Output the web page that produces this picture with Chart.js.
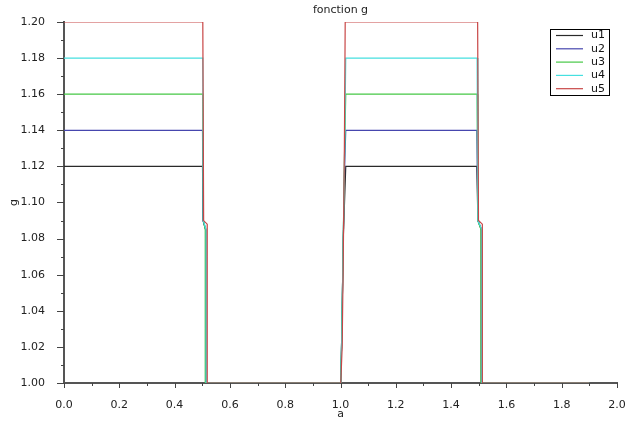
<!DOCTYPE html>
<html lang="fr">
<head>
    <meta charset="UTF-8">
    <title>fonction g</title>
    <script src="https://cdn.jsdelivr.net/npm/chart.js"></script>
    <style>
        body {
            margin: 0;
            background: #fff;
        }
        #chart {
            display: block;
        }
    </style>
</head>
<body>

<canvas id="chart" width="625" height="421"></canvas>

<script>
    // Données (a -> g)
    const chartTitle = 'fonction g';
    const seriesNames = ['u1', 'u2', 'u3', 'u4', 'u5'];
    const seriesColors = ['#2a2a2a', '#4646ae', '#46c846', '#46e0e0', '#c84646'];

    const aU1 = [0, 0.501, 0.503, 0.512, 0.512, 1.001, 1.005, 1.010, 1.019, 1.493, 1.497, 1.509, 1.509, 1.9];
    const gU1 = [1.12, 1.12, 1.09, 1.085, 1.0, 1.0, 1.03, 1.08, 1.12, 1.12, 1.09, 1.085, 1.0, 1.0];

    const aU2 = [0, 0.501, 0.503, 0.513, 0.513, 1.001, 1.005, 1.010, 1.015, 1.019, 1.493, 1.497, 1.510, 1.510, 1.9];
    const gU2 = [1.14, 1.14, 1.09, 1.085, 1.0, 1.0, 1.03, 1.08, 1.12, 1.14, 1.14, 1.09, 1.085, 1.0, 1.0];

    const aU3 = [0, 0.502, 0.504, 0.511, 0.511, 1.001, 1.005, 1.010, 1.015, 1.019, 1.494, 1.497, 1.508, 1.508, 1.9];
    const gU3 = [1.16, 1.16, 1.09, 1.085, 1.0, 1.0, 1.03, 1.08, 1.13, 1.16, 1.16, 1.09, 1.085, 1.0, 1.0];

    const aU4 = [0, 0.502, 0.504, 0.514, 0.514, 1.001, 1.005, 1.010, 1.015, 1.019, 1.494, 1.497, 1.511, 1.511, 1.9];
    const gU4 = [1.18, 1.18, 1.09, 1.085, 1.0, 1.0, 1.03, 1.08, 1.13, 1.18, 1.18, 1.09, 1.085, 1.0, 1.0];

    const aU5 = [0, 0.502, 0.505, 0.518, 0.518, 1.001, 1.006, 1.010, 1.014, 1.017, 1.496, 1.499, 1.513, 1.513, 1.9];
    const gU5 = [1.2, 1.2, 1.09, 1.088, 1.0, 1.0, 1.02, 1.07, 1.13, 1.2, 1.2, 1.09, 1.088, 1.0, 1.0];

    const seriesA = [aU1, aU2, aU3, aU4, aU5];
    const seriesG = [gU1, gU2, gU3, gU4, gU5];

    const xMin = 0, xMax = 2, xStep = 0.1;
    const yMin = 1.0, yMax = 1.2, yStep = 0.01;

    const fontFamily = '"DejaVu Sans", sans-serif';

    // titre centré sur la zone de tracé
    const titlePlugin = {
        id: 'titlePlugin',
        afterDraw(chart) {
            const ctx = chart.ctx;
            const area = chart.chartArea;
            ctx.save();
            ctx.font = '11px ' + fontFamily;
            ctx.fillStyle = '#222';
            ctx.textAlign = 'center';
            ctx.textBaseline = 'middle';
            ctx.fillText(chartTitle, (area.left + area.right) / 2, 10);
            ctx.restore();
        }
    };

    // petites graduations + graduations principales
    const ticksPlugin = {
        id: 'ticksPlugin',
        afterDraw(chart) {
            const ctx = chart.ctx;
            const area = chart.chartArea;
            const xs = chart.scales.x;
            const ys = chart.scales.y;
            ctx.save();
            ctx.strokeStyle = '#444';
            ctx.lineWidth = 1;
            ctx.beginPath();
            ys.ticks.forEach(t => {
                const major = Math.round(t.value * 100) % 2 === 0;
                const y = Math.round(ys.getPixelForValue(t.value)) + 0.5;
                ctx.moveTo(area.left, y);
                ctx.lineTo(area.left - (major ? 7 : 3), y);
            });
            xs.ticks.forEach(t => {
                const major = Math.round(t.value * 10) % 2 === 0;
                const x = Math.round(xs.getPixelForValue(t.value)) + 0.5;
                ctx.moveTo(x, area.bottom);
                ctx.lineTo(x, area.bottom + (major ? 5 : 3));
            });
            ctx.stroke();
            ctx.restore();
        }
    };

    // légende encadrée en haut à droite
    const boxLegend = {
        id: 'boxLegend',
        afterDraw(chart) {
            const ctx = chart.ctx;
            const x0 = 550, y0 = 29, w = 59, h = 66, row = 13.3;
            ctx.save();
            ctx.fillStyle = '#fff';
            ctx.fillRect(x0, y0, w, h);
            ctx.strokeStyle = '#000';
            ctx.lineWidth = 1;
            ctx.strokeRect(x0 + 0.5, y0 + 0.5, w, h);
            ctx.font = '11px ' + fontFamily;
            ctx.textBaseline = 'middle';
            chart.data.datasets.forEach((ds, i) => {
                const y = y0 + 6.5 + i * row;
                ctx.strokeStyle = ds.borderColor;
                ctx.lineWidth = 1.2;
                ctx.beginPath();
                ctx.moveTo(x0 + 6, y);
                ctx.lineTo(x0 + 33, y);
                ctx.stroke();
                ctx.fillStyle = '#111';
                ctx.fillText(ds.label, x0 + 41, y);
            });
            ctx.restore();
        }
    };

    const datasets = seriesNames.map((name, i) => ({
        label: name,
        data: seriesA[i].map((a, k) => ({x: a, y: seriesG[i][k]})),
        borderColor: seriesColors[i],
        backgroundColor: seriesColors[i],
        borderWidth: 1.2,
        pointRadius: 0,
        tension: 0,
        fill: false,
        order: seriesNames.length - 1 - i
    }));

    const ctx = document.getElementById('chart').getContext('2d');
    new Chart(ctx, {
        type: 'line',
        data: { datasets: datasets },
        plugins: [titlePlugin, ticksPlugin, boxLegend],
        options: {
            responsive: false,
            animation: false,
            layout: { padding: { left: 0, right: 8, top: 22, bottom: 0 } },
            plugins: {
                legend: { display: false },
                tooltip: { enabled: false },
                title: { display: false }
            },
            scales: {
                x: {
                    type: 'linear',
                    min: xMin,
                    max: xMax,
                    afterFit: s => { s.height = 38; s.paddingRight = 0; s.paddingLeft = 0; },
                    grid: { display: false },
                    border: { display: true, color: '#555', width: 2 },
                    ticks: {
                        stepSize: xStep,
                        autoSkip: false,
                        maxRotation: 0,
                        padding: 8,
                        color: '#222',
                        font: { family: fontFamily, size: 11 },
                        callback: v => Math.round(v * 10) % 2 === 0 ? v.toFixed(1) : ''
                    },
                    title: {
                        display: true,
                        text: 'a',
                        color: '#222',
                        font: { family: fontFamily, size: 11 },
                        padding: { top: 2, bottom: 0 }
                    }
                },
                y: {
                    type: 'linear',
                    min: yMin,
                    max: yMax,
                    afterFit: s => { s.width = 64; s.paddingTop = 0; s.paddingBottom = 0; },
                    grid: { display: false },
                    border: { display: true, color: '#555', width: 2 },
                    ticks: {
                        stepSize: yStep,
                        autoSkip: false,
                        padding: 11,
                        color: '#222',
                        font: { family: fontFamily, size: 11 },
                        callback: v => Math.round(v * 100) % 2 === 0 ? v.toFixed(2) : ''
                    },
                    title: {
                        display: true,
                        text: 'g',
                        color: '#222',
                        font: { family: fontFamily, size: 11 },
                        padding: { top: 8, bottom: 0 }
                    }
                }
            }
        }
    });
</script>

</body>
</html>
